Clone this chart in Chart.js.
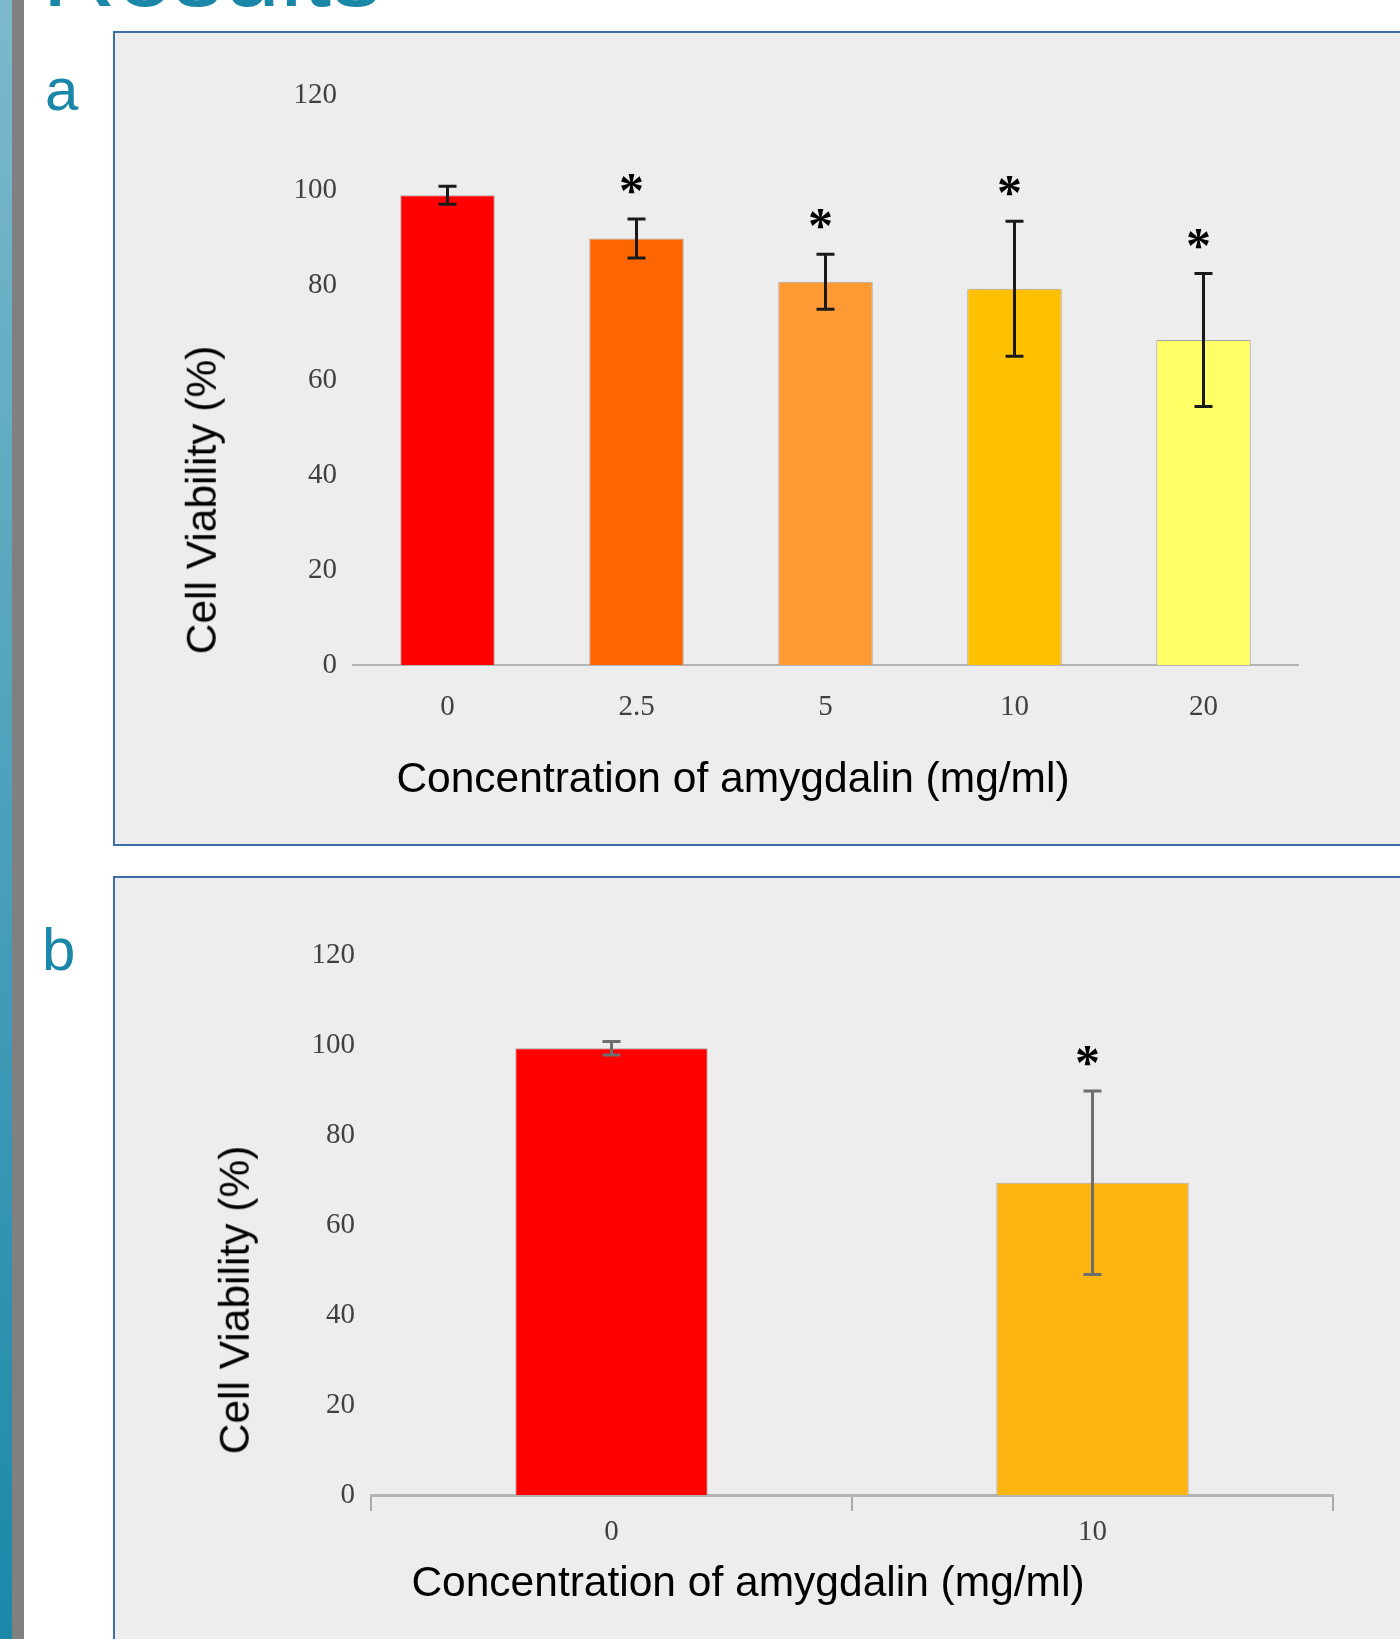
<!DOCTYPE html>
<html>
<head>
<meta charset="utf-8">
<script src="https://cdn.jsdelivr.net/npm/chart.js@4.4.1/dist/chart.umd.min.js"></script>
<style>
  html, body { margin: 0; padding: 0; background: #fff; }
  body { width: 1400px; height: 1639px; position: relative; overflow: hidden; font-family: "Liberation Sans", Arial, sans-serif; }
  .strip { position: absolute; left: 0; top: 0; width: 12px; height: 1639px; background: linear-gradient(#7cb9cc, #1b88a8); }
  .strip2 { position: absolute; left: 12px; top: 0; width: 12px; height: 1639px; background: #808080; }
  .heading { position: absolute; left: 42px; top: -80px; font-size: 102px; line-height: 1; color: #1a86a8; white-space: nowrap; }
  .tag { position: absolute; font-size: 60px; line-height: 1; color: #1a86a8; }
  .panel { position: absolute; left: 113px; width: 1330px; box-sizing: border-box; border: 2px solid #3a6ea5; background: #ededed; }
  canvas { position: absolute; }
  .ttl { position: absolute; font-size: 42.5px; color: #000; white-space: nowrap; line-height: 1; }
</style>
</head>
<body>
<div class="strip"></div>
<div class="strip2"></div>
<div class="heading">Results</div>

<div class="panel" style="top:31px;height:815px;"></div>
<div class="panel" style="top:876px;height:800px;"></div>

<div class="tag" style="left:45px;top:60px;">a</div>
<div class="tag" style="left:42px;top:920px;">b</div>

<canvas id="chartA" width="1285" height="810" style="left:115px;top:33px;"></canvas>
<canvas id="chartB" width="1285" height="761" style="left:115px;top:878px;"></canvas>

<div class="ttl" style="left:733px;top:778px;transform:translate(-50%,-50%);">Concentration of amygdalin (mg/ml)</div>
<div class="ttl" style="left:202px;top:500px;transform:translate(-50%,-50%) rotate(-90deg);">Cell Viability (%)</div>
<div class="ttl" style="left:748px;top:1582px;transform:translate(-50%,-50%);">Concentration of amygdalin (mg/ml)</div>
<div class="ttl" style="left:235px;top:1300px;transform:translate(-50%,-50%) rotate(-90deg);">Cell Viability (%)</div>

<script>
// panel a
const dosesA = ['0', '2.5', '5', '10', '20'];
const viabilityA = [98.9, 89.8, 80.7, 79.2, 68.4];
const errA = [1.9, 4.1, 5.8, 14.2, 14.0];
const sigA = [false, true, true, true, true];
const coloursA = ['#ff0000', '#ff6600', '#ff9933', '#ffc000', '#ffff66'];

// panel b
const dosesB = ['0', '10'];
const viabilityB = [99.3, 69.4];
const errB = [1.5, 20.4];
const sigB = [false, true];
const coloursB = ['#ff0000', '#feb511'];

const yTicks = [0, 20, 40, 60, 80, 100, 120];

// error bars + asterisks drawn from the scales
const errPlugin = {
    id: 'errBars',
    afterDatasetsDraw(chart, args, opts) {
        const ctx = chart.ctx;
        const y = chart.scales.y;
        const meta = chart.getDatasetMeta(0);
        const vals = chart.data.datasets[0].data;
        ctx.save();
        meta.data.forEach((bar, i) => {
            const top = y.getPixelForValue(vals[i] + opts.err[i]);
            const bot = y.getPixelForValue(vals[i] - opts.err[i]);
            ctx.strokeStyle = opts.color;
            ctx.lineWidth = 3;
            ctx.beginPath();
            ctx.moveTo(bar.x, top); ctx.lineTo(bar.x, bot);
            ctx.moveTo(bar.x - opts.cap, top); ctx.lineTo(bar.x + opts.cap, top);
            ctx.moveTo(bar.x - opts.cap, bot); ctx.lineTo(bar.x + opts.cap, bot);
            ctx.stroke();
            if (opts.sig[i]) {
                ctx.fillStyle = '#000';
                ctx.font = 'bold 50px "Liberation Serif"';
                ctx.textAlign = 'center';
                ctx.textBaseline = 'alphabetic';
                ctx.fillText('*', bar.x - 5, top - 12);
            }
        });
        ctx.restore();
    }
};

function makeChart(id, labels, values, colours, err, sig, cfg) {
    return new Chart(document.getElementById(id), {
        type: 'bar',
        data: {
            labels: labels,
            datasets: [{
                data: values,
                backgroundColor: colours,
                borderColor: '#a8a8a8',
                borderWidth: 1,
                barPercentage: cfg.barPct,
                categoryPercentage: 1
            }]
        },
        options: {
            responsive: false,
            devicePixelRatio: 1,
            animation: false,
            layout: { padding: { top: cfg.top, right: cfg.right, left: 0, bottom: 0 } },
            plugins: {
                legend: { display: false },
                tooltip: { enabled: false },
                errBars: { err: err, sig: sig, color: cfg.errColor, cap: 9 }
            },
            scales: {
                x: {
                    afterFit: s => { s.height = cfg.xH; },
                    grid: cfg.xGrid,
                    border: { display: true, color: '#b4b4b4', width: cfg.axisW },
                    ticks: { font: { family: 'Liberation Serif', size: 29 }, color: '#404040', padding: cfg.xPad }
                },
                y: {
                    min: 0, max: 120,
                    afterFit: s => { s.width = cfg.yW; },
                    afterBuildTicks: s => { s.ticks = yTicks.map(v => ({ value: v })); },
                    grid: { display: false },
                    border: { display: false },
                    ticks: { font: { family: 'Liberation Serif', size: 29 }, color: '#404040', padding: 8 }
                }
            }
        },
        plugins: [errPlugin]
    });
}

makeChart('chartA', dosesA, viabilityA, coloursA, errA, sigA, {
    barPct: 0.5, top: 62, right: 102, xH: 178, yW: 238, xPad: 17, axisW: 2,
    errColor: '#1a1a1a',
    xGrid: { display: false }
});

makeChart('chartB', dosesB, viabilityB, coloursB, errB, sigB, {
    barPct: 0.4, top: 77, right: 67, xH: 144, yW: 256, xPad: 4, axisW: 3,
    errColor: '#6e6e6e',
    xGrid: { display: true, drawOnChartArea: false, drawTicks: true, tickLength: 16, color: '#a8a8a8', lineWidth: 2, offset: true }
});
</script>
</body>
</html>
